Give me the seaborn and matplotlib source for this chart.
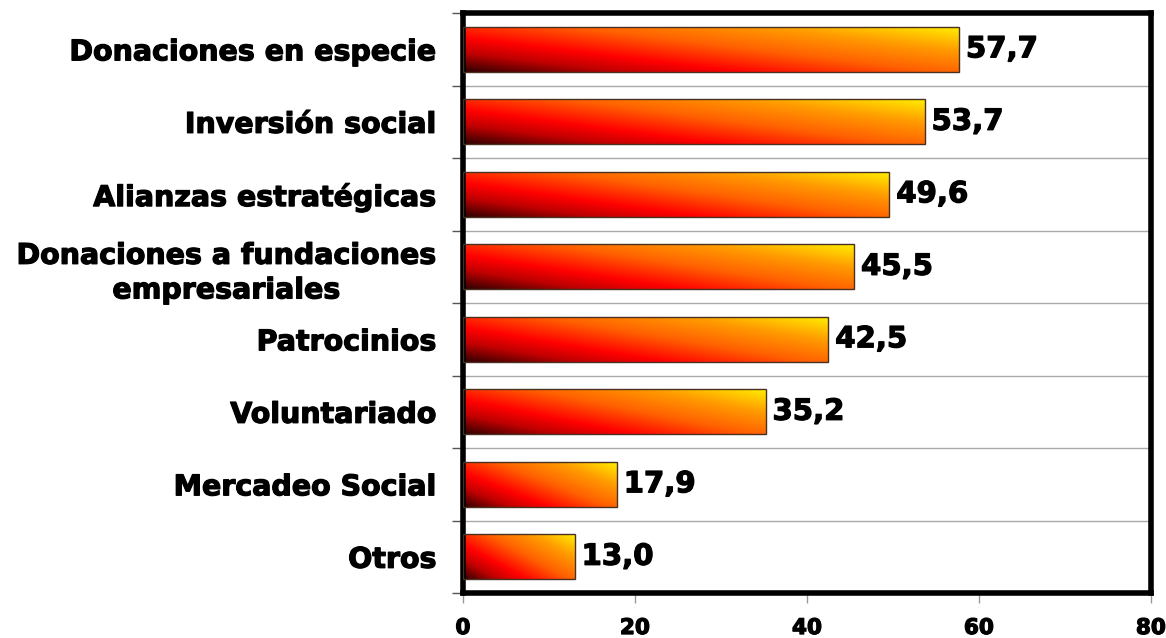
import numpy as np
import pandas as pd
import seaborn as sns
from matplotlib import pyplot as plt
from matplotlib import patheffects as pe
from matplotlib.colors import LinearSegmentedColormap
from matplotlib.ticker import FixedLocator

categories = ["Donaciones en especie", "Inversión social", "Alianzas estratégicas",
              "Donaciones a fundaciones\nempresariales", "Patrocinios", "Voluntariado",
              "Mercadeo Social", "Otros"]
values = [57.7, 53.7, 49.6, 45.5, 42.5, 35.2, 17.9, 13.0]
xticks = [0, 20, 40, 60, 80]

df = pd.DataFrame({"cat": categories, "val": values})

sns.set_style("white")
plt.rcParams['font.family'] = ['DejaVu Sans']
plt.rcParams['text.color'] = 'black'
plt.rcParams['xtick.color'] = 'black'
plt.rcParams['ytick.color'] = 'black'

heavy = [pe.withStroke(linewidth=0.9, foreground="black")]

fig = plt.figure(figsize=(11.66, 6.38), dpi=100)
ax = fig.add_axes([0.397, 0.0705, 0.59, 0.909])

sns.barplot(data=df, x="val", y="cat", orient="h", width=0.62, color="red",
            edgecolor="#4a3020", linewidth=1.0, ax=ax, zorder=3)

cmap = LinearSegmentedColormap.from_list("fire", [
    (0.0, "#300000"), (0.18, "#c00000"), (0.32, "#ff0000"),
    (0.55, "#ff6000"), (0.78, "#ff9c00"), (1.0, "#ffee00")])

# diagonal gradient inside every bar (dark bottom-left -> yellow top-right)
uu, vv = np.meshgrid(np.linspace(0, 1, 300), np.linspace(1, 0, 60))
grad = 0.58 * uu + 0.42 * vv
for p in ax.patches:
    x0, y0 = p.get_x(), p.get_y()
    w, h = p.get_width(), p.get_height()
    p.set_facecolor("none")
    im = ax.imshow(grad, cmap=cmap, vmin=0, vmax=1, aspect="auto", origin="upper",
                   extent=(x0, x0 + w, y0 + h, y0), zorder=2.5,
                   interpolation="bilinear")
    im.set_clip_path(p)
    ax.text(x0 + w + 0.8, y0 + h / 2, f"{w:.1f}".replace(".", ","),
            va="center", ha="left", fontsize=21, fontweight="bold", zorder=4,
            path_effects=heavy)

ax.set_xlim(0, 80)
ax.set_ylim(len(categories) - 0.5, -0.5)
ax.set_xticks(xticks)
ax.set_xticklabels([str(t) for t in xticks], fontsize=15.5, fontweight="bold",
                   path_effects=heavy)
ax.tick_params(axis="x", bottom=True, length=7, width=1, color="#999999", pad=11)

ax.set_yticks(range(len(categories)))
ax.set_yticklabels(categories, fontsize=20.5, fontweight="bold",
                   linespacing=1.3, multialignment="center", path_effects=heavy)
ax.tick_params(axis="y", which="major", length=0, pad=19)
ax.yaxis.set_minor_locator(FixedLocator(np.arange(-0.5, len(categories), 1)))
ax.tick_params(axis="y", which="minor", left=True, length=8, width=1, color="#555555")
ax.grid(False)
ax.grid(axis="y", which="minor", color="#aaaaaa", linewidth=1.0, zorder=1)

for s in ["left", "right", "bottom", "top"]:
    ax.spines[s].set_linewidth(4)
    ax.spines[s].set_color("black")

ax.set_xlabel("")
ax.set_ylabel("")

fig.savefig("out.png", dpi=100)
